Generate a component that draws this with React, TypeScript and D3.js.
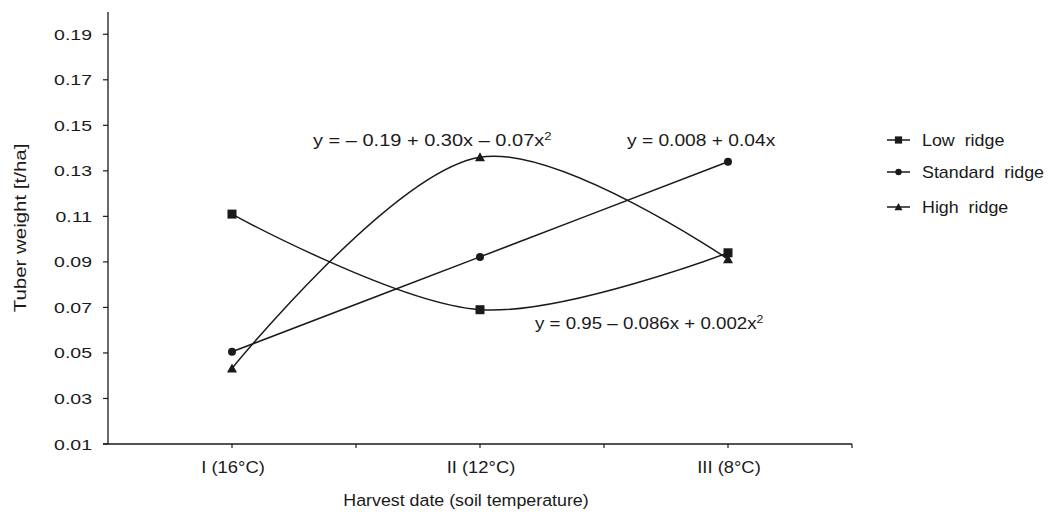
import React from 'react'
import * as d3 from 'd3'

const categories = ['I (16°C)', 'II (12°C)', 'III (8°C)']
const lowRidge = [0.111, 0.069, 0.094]
const standardRidge = [0.0505, 0.0922, 0.134]
const highRidge = [0.0432, 0.136, 0.0912]
const yTicks = [0.01, 0.03, 0.05, 0.07, 0.09, 0.11, 0.13, 0.15, 0.17, 0.19]
const seriesNames = ['Low  ridge', 'Standard  ridge', 'High  ridge']

const W = 1051
const H = 517
const left = 108
const right = 852
const top = 12
const bottom = 444
const font = 'Liberation Sans, Arial, Helvetica, sans-serif'
const ink = '#1a1a1a'

function Marker({ kind, x, y }: { kind: string; x: number; y: number }) {
  if (kind === 'square') return <rect x={x - 4.5} y={y - 4.5} width={9} height={9} fill={ink} />
  if (kind === 'circle') return <circle cx={x} cy={y} r={4} fill={ink} />
  return <path d={`M${x},${y - 5} L${x + 5},${y + 4} L${x - 5},${y + 4} Z`} fill={ink} />
}

// text stretched sideways like the source figure
function Wide({ x, y, sx, size, anchor, rot, children }: any) {
  return (
    <text
      transform={`translate(${x},${y})${rot ? ` rotate(${rot})` : ''} scale(${sx},1)`}
      fontSize={size}
      textAnchor={anchor || 'start'}
      fill={ink}
      style={{ whiteSpace: 'pre' }}
    >
      {children}
    </text>
  )
}

export default function App() {
  const x = d3.scaleBand<string>().domain(categories).range([left, right])
  const y = d3.scaleLinear().domain([0.01, 0.2]).range([bottom, top - 0.5])
  const cx = (c: string) => (x(c) as number) + x.bandwidth() / 2

  const line = d3
    .line<number>()
    .x((_, i) => cx(categories[i]))
    .y((d) => y(d))
    .curve(d3.curveCatmullRom.alpha(0.5))

  const series = [
    { data: lowRidge, kind: 'square' },
    { data: standardRidge, kind: 'circle' },
    { data: highRidge, kind: 'triangle' },
  ]

  const xTickPos = [...categories.map((c) => x(c) as number), right, ...categories.map(cx)].filter(
    (v) => v > left + 1
  )

  const legendY = [140, 172, 207]

  return (
    <svg width={W} height={H} style={{ position: 'absolute', left: 0, top: 0, background: '#fff' }} fontFamily={font} fill={ink}>
      {/* axes */}
      <line x1={left} x2={left} y1={top} y2={bottom} stroke={ink} strokeWidth={1.3} />
      <line x1={left - 5} x2={right} y1={bottom} y2={bottom} stroke={ink} strokeWidth={1.3} />
      {yTicks.map((t) => (
        <g key={t}>
          <line x1={left - 5} x2={left} y1={y(t)} y2={y(t)} stroke={ink} strokeWidth={1.2} />
          <Wide x={left - 16} y={y(t) + 5.5} sx={1.3} size={15} anchor="end">
            {t.toFixed(2)}
          </Wide>
        </g>
      ))}
      {xTickPos.map((p, i) => (
        <line key={i} x1={p} x2={p} y1={bottom} y2={bottom + 4} stroke={ink} strokeWidth={1.2} />
      ))}
      {categories.map((c) => (
        <Wide key={c} x={cx(c) + 1} y={473} sx={1.15} size={16} anchor="middle">
          {c}
        </Wide>
      ))}
      <Wide x={466} y={506} sx={1.08} size={16.5} anchor="middle">
        Harvest date (soil temperature)
      </Wide>
      <Wide x={26} y={228} rot={-90} sx={1.28} size={16} anchor="middle">
        Tuber weight [t/ha]
      </Wide>

      {/* series */}
      {series.map((s, si) => (
        <g key={si}>
          <path d={line(s.data) || ''} fill="none" stroke={ink} strokeWidth={1.5} />
          {s.data.map((v, i) => (
            <Marker key={i} kind={s.kind} x={cx(categories[i])} y={y(v)} />
          ))}
        </g>
      ))}

      {/* equations */}
      <Wide x={313} y={146} sx={1.25} size={16}>
        y = – 0.19 + 0.30x – 0.07x<tspan fontSize={10.5} dy={-6}>2</tspan>
      </Wide>
      <Wide x={627} y={146} sx={1.2} size={16}>
        y = 0.008 + 0.04x
      </Wide>
      <Wide x={535} y={329} sx={1.17} size={16}>
        y = 0.95 – 0.086x + 0.002x<tspan fontSize={10.5} dy={-6}>2</tspan>
      </Wide>

      {/* legend */}
      {series.map((s, i) => (
        <g key={i}>
          <line x1={887} x2={910} y1={legendY[i]} y2={legendY[i]} stroke={ink} strokeWidth={1.5} />
          <g transform={`translate(${898.5},${legendY[i]}) scale(0.8)`}>
            <Marker kind={s.kind} x={0} y={0} />
          </g>
          <Wide x={922} y={legendY[i] + 6} sx={1.05} size={17}>
            {seriesNames[i]}
          </Wide>
        </g>
      ))}
    </svg>
  )
}
